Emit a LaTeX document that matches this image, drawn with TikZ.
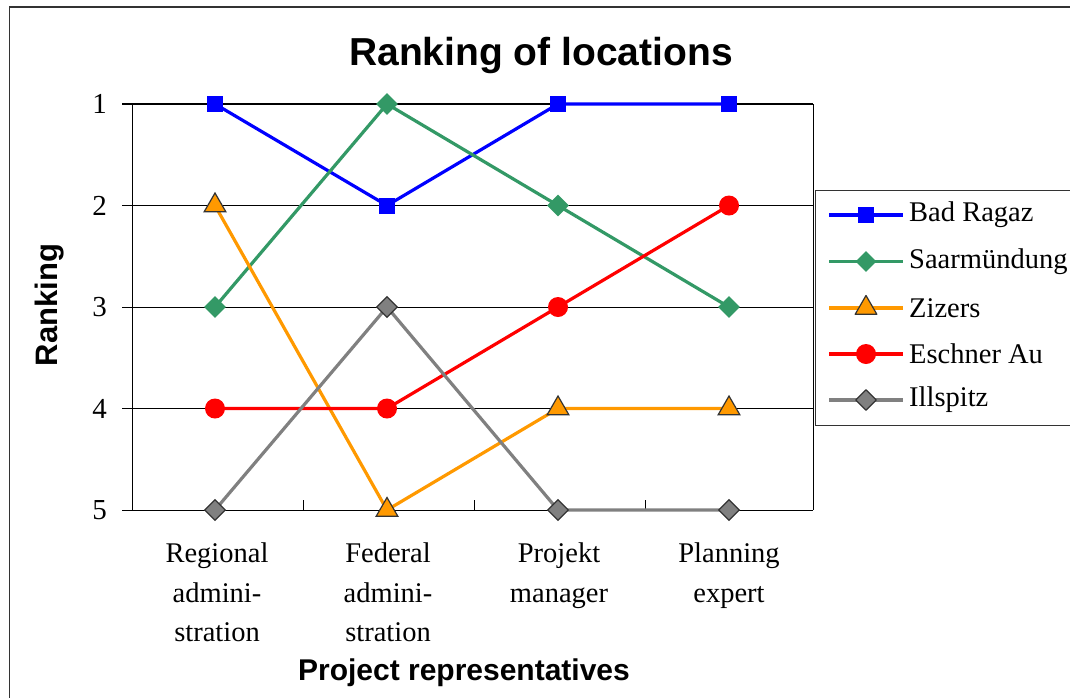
\documentclass[tikz,border=0pt]{standalone}
\usepackage{fontspec}
\setmainfont{Liberation Serif}
\newfontfamily\headfont{Liberation Sans}
\usetikzlibrary{shapes.geometric}

\definecolor{serblue}{RGB}{0,0,255}
\definecolor{sergreen}{RGB}{51,153,102}
\definecolor{serorange}{RGB}{255,153,0}
\definecolor{serred}{RGB}{255,0,0}
\definecolor{sergray}{RGB}{128,128,128}
\definecolor{outl}{RGB}{51,51,51}

\begin{document}
\begin{tikzpicture}[x=1pt,y=1pt,yscale=-1,xscale=1,
  gridline/.style={line width=1pt, draw=black},
  serline/.style={line width=3.2pt, line join=round},
  bluesq/.style={rectangle, fill=serblue, inner sep=0pt, minimum size=16pt},
  greendia/.style={diamond, fill=sergreen, inner sep=0pt, minimum size=22pt},
  orangetri/.style={regular polygon, regular polygon sides=3, draw=outl, line width=1.2pt, fill=serorange, inner sep=0pt, minimum size=25pt},
  redcirc/.style={circle, fill=serred, inner sep=0pt, minimum size=20pt},
  graydia/.style={diamond, draw=outl, line width=1.2pt, fill=sergray, inner sep=0pt, minimum size=21pt},
  ticktext/.style={anchor=east, inner sep=0pt, font=\fontsize{29}{34}\selectfont},
  cattext/.style={anchor=north, align=center, inner sep=0pt, font=\fontsize{28.5}{39.5}\selectfont},
  legtext/.style={anchor=west, inner sep=0pt, font=\fontsize{28.5}{34}\selectfont}]
\useasboundingbox (0,0) rectangle (1070,697);

%Shape: Outer frame
\draw [line width=1.4pt, draw=outl] (9.5,700) -- (9.5,7) -- (1075,7) ;

%Straight Lines: grid, axes and ticks
\draw [gridline, line width=1.6pt] (122,104) -- (813,104) ;
\draw [gridline] (122,205.5) -- (813,205.5) ;
\draw [gridline] (122,307) -- (813,307) ;
\draw [gridline] (122,408.5) -- (813,408.5) ;
\draw [gridline] (122,510) -- (813,510) ;
\draw [gridline] (132,104) -- (132,510) ;
\draw [gridline] (813,104) -- (813,510) ;
\draw [gridline] (303,510) -- (303,500) (474,510) -- (474,500) (645,510) -- (645,500) ;

% Text Node
\node [ticktext] (r1) at (107,104) {1};
\node [ticktext] (r2) at (107,205.5) {2};
\node [ticktext] (r3) at (107,307) {3};
\node [ticktext] (r4) at (107,408.5) {4};
\node [ticktext] (r5) at (107,510) {5};

% Data points
\coordinate (br1) at (215,104);   \coordinate (br2) at (387,205.5);
\coordinate (br3) at (558,104);   \coordinate (br4) at (729,104);
\coordinate (sm1) at (215,307);   \coordinate (sm2) at (387,104);
\coordinate (sm3) at (558,205.5); \coordinate (sm4) at (729,307);
\coordinate (zi1) at (215,205.5); \coordinate (zi2) at (387,510);
\coordinate (zi3) at (558,408.5); \coordinate (zi4) at (729,408.5);
\coordinate (ea1) at (215,408.5); \coordinate (ea2) at (387,408.5);
\coordinate (ea3) at (558,307);   \coordinate (ea4) at (729,205.5);
\coordinate (il1) at (215,510);   \coordinate (il2) at (387,307);
\coordinate (il3) at (558,510);   \coordinate (il4) at (729,510);

%Series: Bad Ragaz
\draw [serline, serblue] (br1) -- (br2) -- (br3) -- (br4) ;
\foreach \p in {br1,br2,br3,br4} \node [bluesq] (m\p) at (\p) {};
%Series: Saarmündung
\draw [serline, sergreen] (sm1) -- (sm2) -- (sm3) -- (sm4) ;
\foreach \p in {sm1,sm2,sm3,sm4} \node [greendia] (m\p) at (\p) {};
%Series: Zizers
\draw [serline, serorange] (zi1) -- (zi2) -- (zi3) -- (zi4) ;
\foreach \p in {zi1,zi2,zi3,zi4} \node [orangetri] (m\p) at (\p) {};
%Series: Eschner Au
\draw [serline, serred] (ea1) -- (ea2) -- (ea3) -- (ea4) ;
\foreach \p in {ea1,ea2,ea3,ea4} \node [redcirc] (m\p) at (\p) {};
%Series: Illspitz
\draw [serline, sergray] (il1) -- (il2) -- (il3) -- (il4) ;
\foreach \p in {il1,il2,il3,il4} \node [graydia] (m\p) at (\p) {};

%Shape: Legend box
\draw [line width=1pt, draw=outl] (815,190) rectangle (1075,425) ;
\draw [serline, serblue] (829,215) -- (903,215) node [midway, bluesq] (kbr) {};
\draw [serline, sergreen] (829,261.5) -- (903,261.5) node [midway, greendia] (ksm) {};
\draw [serline, serorange] (829,308) -- (903,308) node [midway, orangetri] (kzi) {};
\draw [serline, serred] (829,354) -- (903,354) node [midway, redcirc] (kea) {};
\draw [serline, sergray] (829,400) -- (903,400) node [midway, graydia] (kil) {};

% Text Node
\node [legtext] (tbr) at (909,215) {Bad Ragaz};
\node [legtext] (tsm) at (909,261.5) {Saarmündung};
\node [legtext] (tzi) at (909,308) {Zizers};
\node [legtext] (tea) at (909,354) {Eschner Au};
\node [legtext] (til) at (909,400) {Illspitz};

% Text Node
\node [cattext] (c1) at (217,543) {Regional\\admini-\\stration};
\node [cattext] (c2) at (388,543) {Federal\\admini-\\stration};
\node [cattext] (c3) at (559,543) {Projekt\\manager};
\node [cattext] (c4) at (729,543) {Planning\\expert};

% Text Node
\node [font=\headfont\bfseries\fontsize{39}{44}\selectfont] (title) at (541,55) {Ranking of locations};
\node [rotate=90, font=\headfont\bfseries\fontsize{31}{36}\selectfont] (ylab) at (50,305) {Ranking};
\node [font=\headfont\bfseries\fontsize{30}{36}\selectfont] (xlab) at (464,673) {Project representatives};

\end{tikzpicture}
\end{document}
